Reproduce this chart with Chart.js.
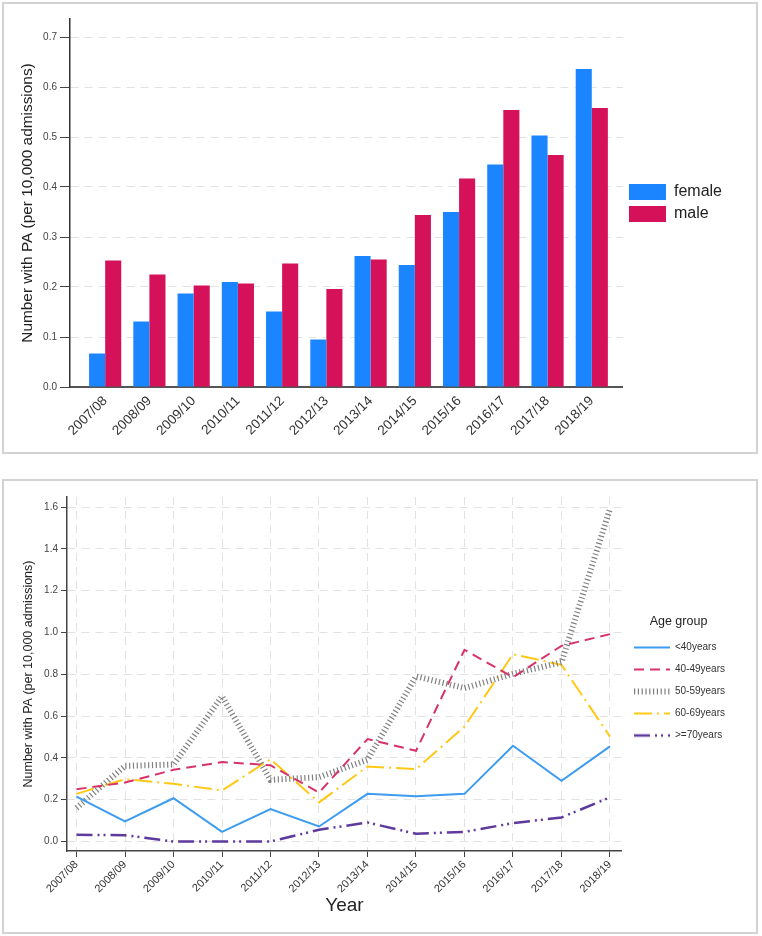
<!DOCTYPE html>
<html><head><meta charset="utf-8">
<script src="https://cdn.jsdelivr.net/npm/chart.js@4/dist/chart.umd.min.js"></script>
<style>
html,body{margin:0;padding:0;background:#fff;width:762px;height:936px;overflow:hidden;position:relative}
.frame{position:absolute;box-sizing:border-box;border:2px solid #d2d2d2;left:2px;width:756px}
#f1{top:2px;height:452px}
#f2{top:479px;height:455px}
canvas{position:absolute;left:0}
#c1{top:0}
#c2{top:478px}
</style></head><body>
<div class="frame" id="f1"></div><div class="frame" id="f2"></div>
<canvas id="c1" width="762" height="456"></canvas>
<canvas id="c2" width="762" height="456"></canvas>
<script>
const years = ['2007/08','2008/09','2009/10','2010/11','2011/12','2012/13','2013/14','2014/15','2015/16','2016/17','2017/18','2018/19'];
const female = [0.067,0.131,0.187,0.210,0.151,0.095,0.262,0.244,0.350,0.445,0.503,0.636];
const male   = [0.253,0.225,0.203,0.207,0.247,0.196,0.255,0.344,0.417,0.554,0.464,0.558];
const ageUnder40 = [0.215,0.096,0.207,0.046,0.155,0.072,0.228,0.217,0.228,0.458,0.290,0.455];
const age40to49  = [0.250,0.282,0.343,0.380,0.365,0.234,0.490,0.434,0.917,0.786,0.936,0.992];
const age50to59  = [0.160,0.362,0.368,0.694,0.295,0.308,0.391,0.790,0.734,0.802,0.857,1.592];
const age60to69  = [0.228,0.298,0.276,0.244,0.394,0.187,0.359,0.346,0.550,0.896,0.845,0.502];
const age70plus  = [0.032,0.030,0.000,0.000,0.000,0.056,0.091,0.037,0.046,0.088,0.115,0.211];
const yTitle = 'Number with PA (per 10,000 admissions)';

Chart.defaults.font.family = "'Liberation Sans', Arial, sans-serif";
Chart.defaults.color = '#333';
Chart.defaults.animation = false;

const pts = arr => arr.map((v, i) => ({x: i, y: v}));
const yearLabel = v => (Number.isInteger(v) && years[v] !== undefined) ? years[v] : '';

// small legend glyph showing the line style of a series
function legendGlyph(color, width, dash) {
  const c = document.createElement('canvas');
  c.width = 36; c.height = 10;
  const g = c.getContext('2d');
  g.strokeStyle = color; g.lineWidth = width; g.lineCap = 'butt';
  g.setLineDash(dash);
  g.beginPath(); g.moveTo(0, 5); g.lineTo(36, 5); g.stroke();
  return c;
}

new Chart(document.getElementById('c1'), {
  type: 'bar',
  data: { datasets: [
    {label: 'female', data: pts(female), backgroundColor: '#1A85FF', borderWidth: 0, categoryPercentage: 0.727, barPercentage: 1},
    {label: 'male', data: pts(male), backgroundColor: '#D41159', borderWidth: 0, categoryPercentage: 0.727, barPercentage: 1}
  ]},
  options: {
    responsive: false, animation: false,
    layout: {padding: {top: 19, right: 30, bottom: 0, left: 0}},
    plugins: {
      tooltip: {enabled: false},
      legend: {position: 'right', align: 'center', fullSize: false,
        labels: {boxWidth: 37, boxHeight: 16, padding: 6, color: '#222', font: {size: 16}}}
    },
    scales: {
      x: {type: 'linear', min: -0.795, max: 11.705, offset: false,
        grid: {display: false, offset: false},
        border: {display: true, color: '#555', width: 2},
        ticks: {stepSize: 1, maxTicksLimit: 40, includeBounds: false, autoSkip: false, maxRotation: 45, minRotation: 45,
          padding: -2, color: '#333', font: {size: 13.5}, callback: yearLabel},
        afterFit: s => { s.height = 69; }},
      y: {min: 0, max: 0.736,
        ticks: {stepSize: 0.1, maxTicksLimit: 40, includeBounds: false, padding: 3, color: '#444', font: {size: 10}, callback: v => v.toFixed(1)},
        grid: {color: '#e2e2e2', tickColor: '#444', tickLength: 10, tickBorderDash: []},
        border: {display: true, color: '#333', width: 1.5, dash: [8, 6]},
        title: {display: true, text: yTitle, font: {size: 15.4}, color: '#222', padding: {top: 19, bottom: 0}},
        afterFit: s => { s.width = 70; }}
    }
  }
});

const lineStyles = [
  {label: '<40years',   data: ageUnder40, color: '#3d9bf0', width: 2,   dash: []},
  {label: '40-49years', data: age40to49,  color: '#d6336c', width: 2,   dash: [10, 6]},
  {label: '50-59years', data: age50to59,  color: '#808080', width: 6,   dash: [1.2, 2.6]},
  {label: '60-69years', data: age60to69,  color: '#ffc814', width: 2,   dash: [18, 5, 2, 5]},
  {label: '>=70years',  data: age70plus,  color: '#5d3a9b', width: 2.5, dash: [16, 5, 2, 4, 2, 5]}
];

new Chart(document.getElementById('c2'), {
  type: 'line',
  data: { datasets: lineStyles.map(s => ({
    label: s.label, data: pts(s.data), borderColor: s.color, borderWidth: s.width, borderDash: s.dash,
    pointStyle: legendGlyph(s.color, s.width, s.dash)
  }))},
  options: {
    responsive: false, animation: false,
    elements: {point: {radius: 0, hoverRadius: 0}, line: {tension: 0, fill: false}},
    layout: {padding: {top: 19, right: 27, bottom: 0, left: 0}},
    plugins: {
      tooltip: {enabled: false},
      legend: {position: 'right', align: 'center', fullSize: false,
        title: {display: true, text: 'Age group', color: '#222', font: {size: 12.5}, padding: {top: 20, bottom: 0}},
        labels: {usePointStyle: true, pointStyleWidth: 36, padding: 12, color: '#333', font: {size: 10}}}
    },
    scales: {
      x: {type: 'linear', min: -0.196, max: 11.247, offset: false,
        grid: {color: '#e2e2e2', tickColor: '#444', tickLength: 6, tickBorderDash: []},
        border: {display: true, color: '#444', width: 1.5, dash: [8, 6]},
        ticks: {stepSize: 1, maxTicksLimit: 40, includeBounds: false, autoSkip: false, maxRotation: 45, minRotation: 45,
          padding: 1, color: '#333', font: {size: 11}, callback: yearLabel},
        title: {display: true, text: 'Year', color: '#222', font: {size: 19}, padding: {top: 0, bottom: 17}},
        afterFit: s => { s.height = 83; }},
      y: {min: -0.0454, max: 1.648,
        ticks: {stepSize: 0.2, maxTicksLimit: 40, includeBounds: false, padding: 3, color: '#444', font: {size: 10}, callback: v => v.toFixed(1)},
        grid: {color: '#e2e2e2', tickColor: '#444', tickLength: 6, tickBorderDash: []},
        border: {display: true, color: '#444', width: 1.5, dash: [8, 6]},
        title: {display: true, text: yTitle, font: {size: 12.5}, color: '#222', padding: {top: 21, bottom: 0}},
        afterFit: s => { s.width = 67; }}
    }
  }
});
</script>
</body></html>
